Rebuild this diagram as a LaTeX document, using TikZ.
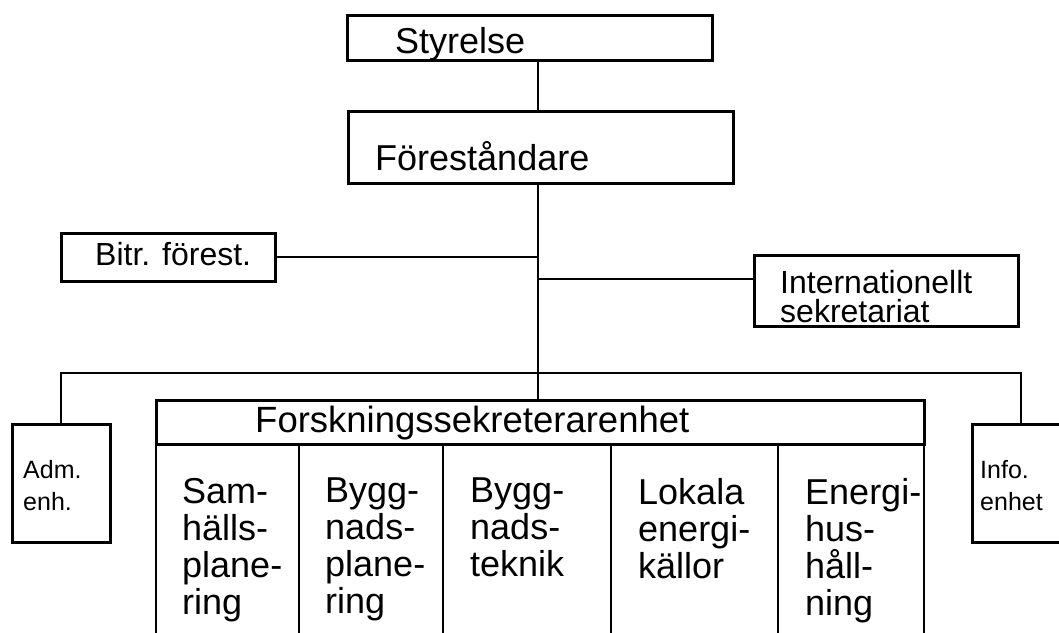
\documentclass[tikz,border=0pt]{standalone}
\usepackage{fontspec}
\setmainfont{Liberation Sans}
\usetikzlibrary{positioning}

\newlength{\du}
\setlength{\du}{1pt}

\tikzset{
  orgbox/.style={draw, rectangle, line width=2.6\du, inner sep=0pt, anchor=north west},
  orgcol/.style={orgbox, line width=2\du, minimum height=217\du},
  orgtext/.style={anchor=base west, inner sep=0pt, align=left},
  orgpara/.style={anchor=north west, inner sep=0pt, align=left},
  orgline/.style={line width=1.8\du},
}

\begin{document}
\begin{tikzpicture}[x=\du, y=-\du]
\useasboundingbox (0,0) rectangle (1059,632);
\clip (0,0) rectangle (1059,632);

% boxes
\node[orgbox, minimum width=365\du, minimum height=45\du] (styrelse) at (346,14) {};
\node[orgbox, minimum width=385\du, minimum height=72\du] (forest) at (347,110) {};
\node[orgbox, minimum width=214\du, minimum height=48\du] (bitr) at (60,232) {};
\node[orgbox, minimum width=264\du, minimum height=71\du] (intl) at (753,254) {};
\node[orgbox, minimum width=98\du, minimum height=118\du] (adm) at (11,423) {};
\node[orgbox, minimum width=98\du, minimum height=118\du] (info) at (971,423) {};
\node[orgbox, minimum width=768\du, minimum height=44\du] (fse) at (155,399) {};
\foreach \x/\w/\n in {155/143/samh, 298/144/byggpl, 442/168/byggtek, 610/167/lokala, 777/146/energi}
  \node[orgcol, minimum width=\w\du] (\n) at (\x,443) {};

% texts
\node[orgtext, font=\fontsize{36}{38}\selectfont] (styrelse-t) at (395,53) {Styrelse};
\node[orgtext, font=\fontsize{36}{38}\selectfont] (forest-t) at (375,170) {Föreståndare};
\node[orgtext, font=\fontsize{32}{34}\selectfont] (bitr-t) at (95,265) {Bitr. förest.};
\node[orgpara, font=\fontsize{32}{29}\selectfont] (intl-t) at (780,270) {Internationellt\\sekretariat};
\node[orgpara, font=\fontsize{25}{32}\selectfont] (adm-t) at (23,460) {Adm.\\enh.};
\node[orgpara, font=\fontsize{25}{32}\selectfont] (info-t) at (980,460) {Info.\\enhet};
\node[orgtext, font=\fontsize{36.5}{38}\selectfont] (fse-t) at (255,432) {Forskningssekreterarenhet};
\node[orgpara, font=\fontsize{36}{37}\selectfont] (samh-t) at (182,478) {Sam-\\hälls-\\plane-\\ring};
\node[orgpara, font=\fontsize{36}{37}\selectfont] (byggpl-t) at (325,478) {Bygg-\\nads-\\plane-\\ring};
\node[orgpara, font=\fontsize{36}{37}\selectfont] (byggtek-t) at (470,478) {Bygg-\\nads-\\teknik};
\node[orgpara, font=\fontsize{36}{37}\selectfont] (lokala-t) at (638,478) {Lokala\\energi-\\källor};
\node[orgpara, font=\fontsize{36}{37}\selectfont] (energi-t) at (805,478) {Energi-\\hus-\\håll-\\ning};

% connectors
\coordinate (spine) at (538,373);
\coordinate (intl-in) at ([yshift=11.5pt]intl.west);
\draw[orgline] (styrelse.south -| spine) -- (forest.north -| spine);
\draw[orgline] (forest.south -| spine) -- (fse.north -| spine);
\draw[orgline] (bitr.east) -- (bitr.east -| spine);
\draw[orgline] (intl-in) -- (intl-in -| spine);
\draw[orgline] (adm.north) |- (spine) -| (info.north);
\end{tikzpicture}
\end{document}
